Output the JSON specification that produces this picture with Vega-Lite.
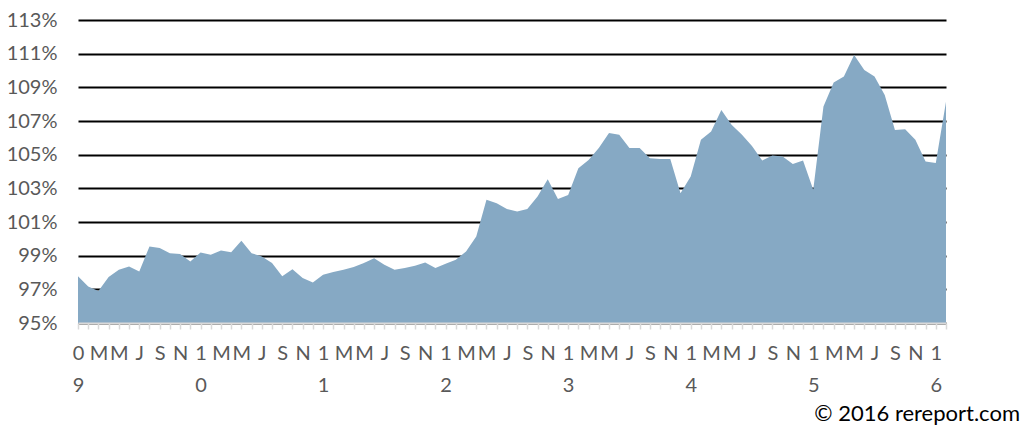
{
  "$schema": "https://vega.github.io/schema/vega-lite/v6.json",
  "autosize": {"type": "none"},
  "width": 868,
  "height": 303,
  "padding": {"left": 78, "top": 20, "right": 75, "bottom": 103},
  "background": "white",
  "config": {
    "view": {"stroke": null},
    "font": "Lato"
  },
  "title": {
    "text": "© 2016 rereport.com",
    "orient": "bottom",
    "anchor": "end",
    "frame": "group",
    "font": "Lato",
    "fontSize": 22,
    "fontWeight": "normal",
    "color": "#000000",
    "offset": 9,
    "dx": 74
  },
  "data": {
    "values": [
      {"month": "2009-01", "value": 97.77},
      {"month": "2009-02", "value": 97.17},
      {"month": "2009-03", "value": 96.90},
      {"month": "2009-04", "value": 97.73},
      {"month": "2009-05", "value": 98.16},
      {"month": "2009-06", "value": 98.36},
      {"month": "2009-07", "value": 98.06},
      {"month": "2009-08", "value": 99.55},
      {"month": "2009-09", "value": 99.45},
      {"month": "2009-10", "value": 99.15},
      {"month": "2009-11", "value": 99.10},
      {"month": "2009-12", "value": 98.66},
      {"month": "2010-01", "value": 99.19},
      {"month": "2010-02", "value": 99.05},
      {"month": "2010-03", "value": 99.31},
      {"month": "2010-04", "value": 99.21},
      {"month": "2010-05", "value": 99.88},
      {"month": "2010-06", "value": 99.15},
      {"month": "2010-07", "value": 98.95},
      {"month": "2010-08", "value": 98.56},
      {"month": "2010-09", "value": 97.77},
      {"month": "2010-10", "value": 98.20},
      {"month": "2010-11", "value": 97.67},
      {"month": "2010-12", "value": 97.41},
      {"month": "2011-01", "value": 97.87},
      {"month": "2011-02", "value": 98.03},
      {"month": "2011-03", "value": 98.16},
      {"month": "2011-04", "value": 98.32},
      {"month": "2011-05", "value": 98.56},
      {"month": "2011-06", "value": 98.84},
      {"month": "2011-07", "value": 98.46},
      {"month": "2011-08", "value": 98.16},
      {"month": "2011-09", "value": 98.26},
      {"month": "2011-10", "value": 98.40},
      {"month": "2011-11", "value": 98.60},
      {"month": "2011-12", "value": 98.26},
      {"month": "2012-01", "value": 98.52},
      {"month": "2012-02", "value": 98.76},
      {"month": "2012-03", "value": 99.25},
      {"month": "2012-04", "value": 100.14},
      {"month": "2012-05", "value": 102.32},
      {"month": "2012-06", "value": 102.12},
      {"month": "2012-07", "value": 101.77},
      {"month": "2012-08", "value": 101.62},
      {"month": "2012-09", "value": 101.77},
      {"month": "2012-10", "value": 102.51},
      {"month": "2012-11", "value": 103.54},
      {"month": "2012-12", "value": 102.36},
      {"month": "2013-01", "value": 102.61},
      {"month": "2013-02", "value": 104.20},
      {"month": "2013-03", "value": 104.69},
      {"month": "2013-04", "value": 105.39},
      {"month": "2013-05", "value": 106.28},
      {"month": "2013-06", "value": 106.18},
      {"month": "2013-07", "value": 105.39},
      {"month": "2013-08", "value": 105.39},
      {"month": "2013-09", "value": 104.79},
      {"month": "2013-10", "value": 104.75},
      {"month": "2013-11", "value": 104.75},
      {"month": "2013-12", "value": 102.71},
      {"month": "2014-01", "value": 103.70},
      {"month": "2014-02", "value": 105.88},
      {"month": "2014-03", "value": 106.37},
      {"month": "2014-04", "value": 107.66},
      {"month": "2014-05", "value": 106.77},
      {"month": "2014-06", "value": 106.20},
      {"month": "2014-07", "value": 105.52},
      {"month": "2014-08", "value": 104.65},
      {"month": "2014-09", "value": 104.95},
      {"month": "2014-10", "value": 104.89},
      {"month": "2014-11", "value": 104.45},
      {"month": "2014-12", "value": 104.65},
      {"month": "2015-01", "value": 102.91},
      {"month": "2015-02", "value": 107.86},
      {"month": "2015-03", "value": 109.28},
      {"month": "2015-04", "value": 109.64},
      {"month": "2015-05", "value": 110.92},
      {"month": "2015-06", "value": 110.03},
      {"month": "2015-07", "value": 109.64},
      {"month": "2015-08", "value": 108.55},
      {"month": "2015-09", "value": 106.47},
      {"month": "2015-10", "value": 106.51},
      {"month": "2015-11", "value": 105.88},
      {"month": "2015-12", "value": 104.59},
      {"month": "2016-01", "value": 104.50},
      {"month": "2016-02", "value": 108.15}
    ]
  },
  "mark": {"type": "area", "color": "#86a9c4", "clip": true},
  "encoding": {
    "x": {
      "field": "month",
      "type": "ordinal",
      "scale": {"type": "point", "padding": 0},
      "axis": {
        "title": null,
        "zindex": 1,
        "grid": false,
        "domainColor": "#d9d9d9",
        "domainWidth": 2,
        "ticks": true,
        "tickColor": "#d9d9d9",
        "tickSize": 6,
        "tickWidth": 1.5,
        "labelAngle": 0,
        "labelPadding": 14,
        "labelFont": "Lato",
        "labelFontSize": 20,
        "labelColor": "#595959",
        "labelLineHeight": 32,
        "labelOverlap": false,
        "labelFlush": false,
        "labelBound": false,
        "labelExpr": "slice(datum.value, 5) == '01' ? [slice(datum.value, 2, 3), slice(datum.value, 3, 4)] : (slice(datum.value, 5) == '03' || slice(datum.value, 5) == '05') ? 'M' : slice(datum.value, 5) == '07' ? 'J' : slice(datum.value, 5) == '09' ? 'S' : slice(datum.value, 5) == '11' ? 'N' : ''"
      }
    },
    "y": {
      "field": "value",
      "type": "quantitative",
      "scale": {"domain": [95, 113], "zero": false, "nice": false},
      "axis": {
        "title": null,
        "values": [95, 97, 99, 101, 103, 105, 107, 109, 111, 113],
        "domain": false,
        "ticks": false,
        "tickSize": 0,
        "labelPadding": 21,
        "labelFont": "Lato",
        "labelFontSize": 20,
        "labelColor": "#595959",
        "labelExpr": "datum.value + '%'",
        "grid": true,
        "gridColor": "#000000",
        "gridWidth": 2
      }
    }
  }
}
